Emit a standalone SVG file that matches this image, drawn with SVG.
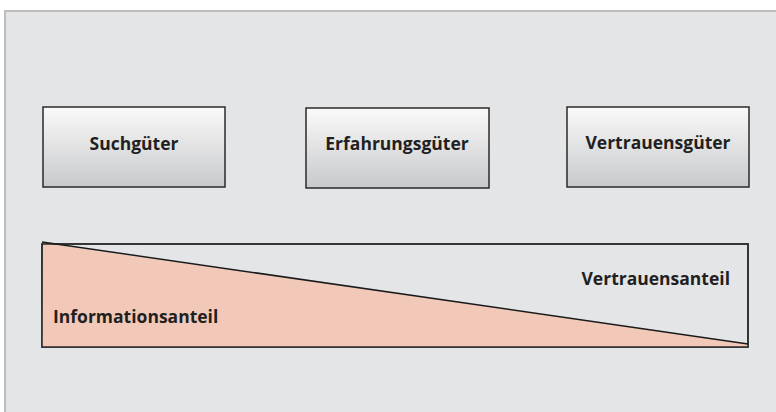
<svg xmlns="http://www.w3.org/2000/svg" width="776" height="412" viewBox="0 0 776 412">
<defs>
<linearGradient id="g" x1="0" y1="0" x2="0" y2="1">
<stop offset="0" stop-color="#fafafa"/>
<stop offset="1" stop-color="#c8c9cb"/>
</linearGradient>
<style>
.box{fill:url(#g);stroke:#2a2a2a;stroke-width:1.5}
.t{font-family:"Open Sans","DejaVu Sans",sans-serif;font-weight:bold;font-size:17.5px;fill:#231f20}
</style>
</defs>
<rect x="0" y="0" width="776" height="412" fill="#ffffff"/>
<rect x="5" y="11" width="790" height="420" fill="#e4e5e7" stroke="#bdbdbd" stroke-width="2"/>
<g id="suchgueter">
<rect class="box" x="43" y="107" width="182" height="80"/>
<text class="t" x="134" y="150" text-anchor="middle">Suchgüter</text>
</g>
<g id="erfahrungsgueter">
<rect class="box" x="306" y="108" width="183" height="80"/>
<text class="t" x="397" y="150" text-anchor="middle">Erfahrungsgüter</text>
</g>
<g id="vertrauensgueter">
<rect class="box" x="567" y="107" width="182" height="80"/>
<text class="t" x="658" y="149" text-anchor="middle">Vertrauensgüter</text>
</g>
<g id="anteile">
<rect x="42" y="244" width="706" height="103" fill="#e4e5e7" stroke="#2a2a2a" stroke-width="1.5"/>
<polygon points="43,243 748,344 748,347 42,347" fill="#f2c9b9"/>
<rect x="42" y="244" width="706" height="103" fill="none" stroke="#2a2a2a" stroke-width="1.5"/>
<line x1="42" y1="242" x2="748" y2="344" stroke="#1a1a1a" stroke-width="1.5"/>
<text class="t" x="53" y="323">Informationsanteil</text>
<text class="t" x="730" y="285" text-anchor="end">Vertrauensanteil</text>
</g>
</svg>
